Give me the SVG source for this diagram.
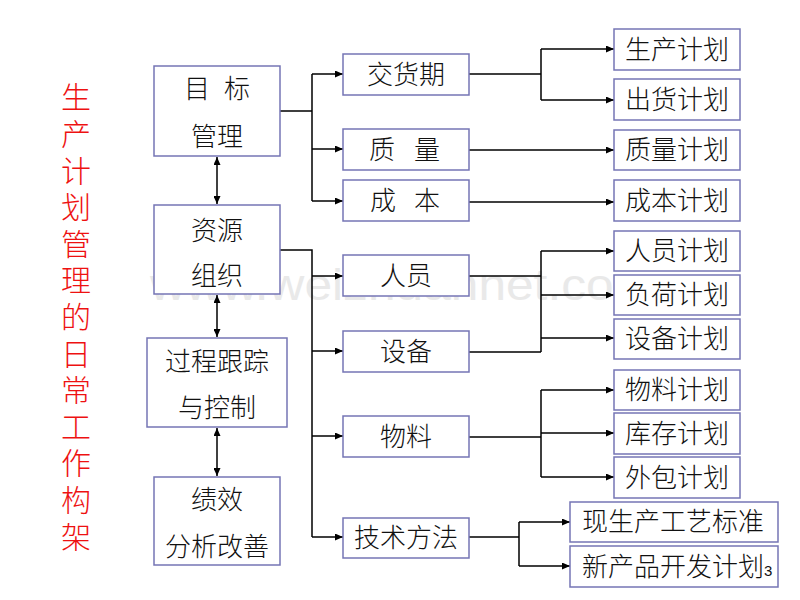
<svg xmlns="http://www.w3.org/2000/svg" width="800" height="600" viewBox="0 0 800 600">
<defs>
<marker id="ah" markerUnits="userSpaceOnUse" markerWidth="8" markerHeight="7" refX="8" refY="3.5" orient="auto-start-reverse">
<path d="M0,0 L8,3.5 L0,7 z" fill="#000"/>
</marker>
<style>
.box{fill:#fff;stroke:#7575b5;stroke-width:1.5}
.t{font-family:"Noto Sans CJK SC","Liberation Sans",sans-serif;font-size:26px;font-weight:300;fill:#111;text-anchor:middle}
.tl{font-family:"Noto Sans CJK SC","Liberation Sans",sans-serif;font-size:26px;font-weight:300;fill:#111}
.ln{fill:none;stroke:#000;stroke-width:1.5}
.arr{fill:none;stroke:#000;stroke-width:1.5;marker-end:url(#ah)}
.dbl{fill:none;stroke:#000;stroke-width:1.5;marker-end:url(#ah);marker-start:url(#ah)}
.title{font-family:"Noto Sans CJK SC","Liberation Sans",sans-serif;font-size:30px;font-weight:300;fill:#ee1111;writing-mode:vertical-rl;letter-spacing:6.6px}
.wm{font-family:"Liberation Sans",Arial,sans-serif;font-size:44px;fill:#e9e9e9}
</style>
</defs>
<rect width="800" height="600" fill="#fff"/>
<text class="wm" x="150" y="300" textLength="505" lengthAdjust="spacingAndGlyphs">www.weizhuannet.com</text>

<text class="title" x="76" y="82">生产计划管理的日常工作构架</text>

<g id="connectors">
<path class="dbl" d="M217,157 V204"/>
<path class="dbl" d="M217,295 V337"/>
<path class="dbl" d="M217,428 V476"/>
<path class="ln" d="M280,111 H312 M312,74 V201"/>
<path class="arr" d="M312,74 H343"/>
<path class="arr" d="M312,149 H343"/>
<path class="arr" d="M312,201 H343"/>
<path class="ln" d="M280,250 H312 V537"/>
<path class="arr" d="M312,276 H343"/>
<path class="arr" d="M312,351 H343"/>
<path class="arr" d="M312,436 H343"/>
<path class="arr" d="M312,537 H343"/>
<path class="ln" d="M469,74 H541 M541,49 V100"/>
<path class="arr" d="M541,49 H614"/>
<path class="arr" d="M541,100 H614"/>
<path class="arr" d="M469,150 H614"/>
<path class="arr" d="M469,202 H614"/>
<path class="ln" d="M469,276 H541 M469,352 H541 M541,251 V352"/>
<path class="arr" d="M541,251 H614"/>
<path class="arr" d="M541,295 H614"/>
<path class="arr" d="M541,338 H614"/>
<path class="ln" d="M469,437 H541 M541,390 V477"/>
<path class="arr" d="M541,390 H614"/>
<path class="arr" d="M541,433 H614"/>
<path class="arr" d="M541,477 H614"/>
<path class="ln" d="M469,537 H519 M519,522 V566"/>
<path class="arr" d="M519,522 H570"/>
<path class="arr" d="M519,566 H570"/>
</g>

<g id="n-mubiao"><rect class="box" x="154" y="66" width="126" height="90"/><text class="t" y="98"><tspan x="197">目</tspan><tspan x="237">标</tspan></text><text class="t" x="217" y="146">管理</text></g>
<g id="n-ziyuan"><rect class="box" x="154" y="205" width="126" height="89"/><text class="t" x="217" y="240">资源</text><text class="t" x="217" y="285">组织</text></g>
<g id="n-guocheng"><rect class="box" x="147" y="338" width="140" height="89"/><text class="t" x="217" y="371">过程跟踪</text><text class="t" x="217" y="417">与控制</text></g>
<g id="n-jixiao"><rect class="box" x="154" y="477" width="126" height="88"/><text class="t" x="217" y="509">绩效</text><text class="t" x="217" y="556">分析改善</text></g>

<g id="n-jiaohuo"><rect class="box" x="343" y="54" width="126" height="41"/><text class="t" x="406" y="84">交货期</text></g>
<g id="n-zhiliang"><rect class="box" x="343" y="129" width="126" height="41"/><text class="t" y="159"><tspan x="382">质</tspan><tspan x="427">量</tspan></text></g>
<g id="n-chengben"><rect class="box" x="343" y="180" width="126" height="41"/><text class="t" y="210"><tspan x="383">成</tspan><tspan x="427">本</tspan></text></g>
<g id="n-renyuan"><rect class="box" x="343" y="255" width="126" height="41"/><text class="t" x="406" y="285">人员</text></g>
<g id="n-shebei"><rect class="box" x="343" y="331" width="126" height="41"/><text class="t" x="406" y="361">设备</text></g>
<g id="n-wuliao"><rect class="box" x="343" y="416" width="126" height="41"/><text class="t" x="406" y="446">物料</text></g>
<g id="n-jishu"><rect class="box" x="343" y="518" width="126" height="40"/><text class="t" x="406" y="547">技术方法</text></g>

<g id="n-shengchan"><rect class="box" x="614" y="29" width="126" height="41"/><text class="t" x="677" y="59">生产计划</text></g>
<g id="n-chuhuo"><rect class="box" x="614" y="79" width="126" height="41"/><text class="t" x="677" y="109">出货计划</text></g>
<g id="n-zhiliangjh"><rect class="box" x="614" y="130" width="126" height="40"/><text class="t" x="677" y="159">质量计划</text></g>
<g id="n-chengbenjh"><rect class="box" x="614" y="180" width="126" height="41"/><text class="t" x="677" y="210">成本计划</text></g>
<g id="n-renyuanjh"><rect class="box" x="614" y="231" width="126" height="40"/><text class="t" x="677" y="260">人员计划</text></g>
<g id="n-fuhe"><rect class="box" x="614" y="275" width="126" height="40"/><text class="t" x="677" y="304">负荷计划</text></g>
<g id="n-shebeijh"><rect class="box" x="614" y="319" width="126" height="40"/><text class="t" x="677" y="348">设备计划</text></g>
<g id="n-wuliaojh"><rect class="box" x="614" y="370" width="126" height="40"/><text class="t" x="677" y="399">物料计划</text></g>
<g id="n-kucun"><rect class="box" x="614" y="413" width="126" height="41"/><text class="t" x="677" y="443">库存计划</text></g>
<g id="n-waibao"><rect class="box" x="614" y="457" width="126" height="41"/><text class="t" x="677" y="487">外包计划</text></g>

<g id="n-xiansheng"><rect class="box" x="570" y="502" width="208" height="40"/><text class="tl" x="582" y="531">现生产工艺标准</text></g>
<g id="n-xinchanpin"><rect class="box" x="570" y="546" width="208" height="41"/><text class="tl" x="582" y="576">新产品开发计划<tspan font-size="15" font-family="Liberation Sans, sans-serif">3</tspan></text></g>
</svg>
